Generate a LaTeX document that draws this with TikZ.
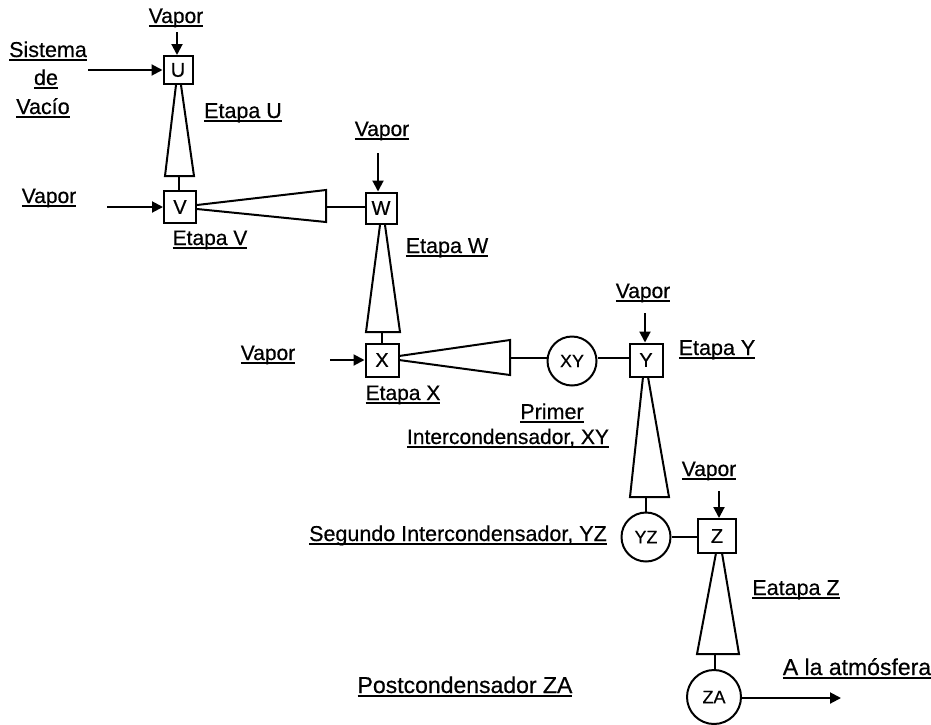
\documentclass[tikz,border=0pt]{standalone}
\usepackage{fontspec}
\setmainfont{Liberation Sans}[FakeBold=0.5]
\usetikzlibrary{arrows.meta}
\tikzset{
  x=1pt,y=-1pt,
  every path/.style={line width=2pt},
  lab/.style={anchor=base,inner sep=0pt,font=\fontsize{21}{25}\selectfont},
  labb/.style={lab,font=\fontsize{21.5}{25}\selectfont},
  labc/.style={lab,font=\fontsize{22.5}{25}\selectfont},
  labd/.style={lab,font=\fontsize{23}{25}\selectfont},
  boxn/.style={draw,rectangle,inner sep=0pt,font=\fontsize{20}{24}\selectfont},
  circn/.style={draw,circle,inner sep=0pt,font=\fontsize{18}{20}\selectfont},
  flow/.style={-{Triangle[length=11pt,width=11pt]}},
  nozzle/.style={draw,line join=miter},
}
% underline sitting close under the baseline, crossed by the descenders
\newcommand{\ul}[1]{\setbox0=\hbox{#1}\rlap{\rule[-4pt]{\wd0}{1.7pt}}\box0}
\begin{document}
\begin{tikzpicture}
\useasboundingbox (0,0) rectangle (931,724);
% boxes
\node[boxn,minimum width=29pt,minimum height=28pt] (U) at (178,70) {U};
\node[boxn,minimum width=32pt,minimum height=32pt] (V) at (180,207) {V};
\node[boxn,minimum width=31pt,minimum height=31pt] (W) at (381,208) {W};
\node[boxn,minimum width=33pt,minimum height=33pt] (X) at (382,360) {X};
\node[boxn,minimum width=33pt,minimum height=33pt] (Y) at (646,360) {Y};
\node[boxn,minimum width=38pt,minimum height=34pt] (Z) at (717,536) {Z};
\node[circn,minimum size=49pt] (XY) at (572,361) {XY};
\node[circn,minimum size=49pt] (YZ) at (646,537) {YZ};
\node[circn,minimum size=54pt] (ZA) at (714,697) {ZA};
% labels
\node[lab] (l1) at (176,23) {\ul{Vapor}};
\node[labb] (l2) at (48,57) {\ul{Sistema}};
\node[labb] (l3) at (46,85) {\ul{de}};
\node[labb] (l4) at (43,114) {\ul{Vacío}};
\node[labb] (l5) at (243,118) {\ul{Etapa U}};
\node[lab] (l6) at (49,203) {\ul{Vapor}};
\node[lab] (l7) at (210,245) {\ul{Etapa V}};
\node[lab] (l8) at (382,136) {\ul{Vapor}};
\node[labb] (l9) at (447,253) {\ul{Etapa W}};
\node[lab] (l10) at (268,360) {\ul{Vapor}};
\node[lab] (l11) at (403,400) {\ul{Etapa X}};
\node[labb] (l12) at (552,419) {\ul{Primer}};
\node[lab] (l13) at (508,444) {\ul{Intercondensador, XY}};
\node[lab] (l14) at (643,298) {\ul{Vapor}};
\node[labb] (l15) at (717,355) {\ul{Etapa Y}};
\node[lab] (l16) at (709,476) {\ul{Vapor}};
\node[labb] (l17) at (458,541) {\ul{Segundo Intercondensador, YZ}};
\node[labb] (l18) at (796,595) {\ul{Eatapa Z}};
\node[labd] (l19) at (857,675) {\ul{A la atmósfera}};
\node[labd] (l20) at (465,693) {\ul{Postcondensador ZA}};
% free ends of the steam and vapour lines
\coordinate (aU) at (177,32);
\coordinate (sU) at (88,70);
\coordinate (sV) at (107,207);
\coordinate (aW) at (378,153);
\coordinate (sX) at (330,360);
\coordinate (aY) at (645,313);
\coordinate (aZ) at (719,491);
\coordinate (out) at (841,698);
% arrows
\draw[flow] (aU) -- (aU |- U.north);
\draw[flow] (sU) -- (U.west |- sU);
\draw[flow] (sV) -- (V.west |- sV);
\draw[flow] (aW) -- (aW |- W.north);
\draw[flow] (sX) -- (X.west |- sX);
\draw[flow] (aY) -- (aY |- Y.north);
\draw[flow] (aZ) -- (aZ |- Z.north);
\draw[flow] (ZA.east |- out) -- (out);
% nozzles
\draw[nozzle] (176,85) -- (165,176) -- (194,176) -- (181,85);
\coordinate (nU) at (179,176);
\draw (nU) -- (nU |- V.north);
\draw[nozzle] (197,205) -- (326,190) -- (326,222) -- (197,209);
\coordinate (nV) at (326,207);
\draw (nV) -- (W.west |- nV);
\draw[nozzle] (380,225) -- (366,332) -- (400,332) -- (385,225);
\coordinate (nW) at (382,332);
\draw (nW) -- (nW |- X.north);
\draw[nozzle] (399,356) -- (510,340) -- (510,375) -- (399,360);
\coordinate (nX) at (510,358);
\draw (nX) -- (XY.west |- nX);
\coordinate (nXY) at (630,358);
\draw (XY.east |- nXY) -- (Y.west |- nXY);
\draw[nozzle] (643,377) -- (630,497) -- (669,497) -- (648,377);
\coordinate (nY) at (646,497);
\draw (nY) -- (YZ.north);
\draw (YZ.east) -- (Z.west |- YZ.east);
\draw[nozzle] (716,553) -- (697,654) -- (739,654) -- (722,553);
\coordinate (nZ) at (715,654);
\draw (nZ) -- (nZ |- ZA.north);
\end{tikzpicture}
\end{document}
